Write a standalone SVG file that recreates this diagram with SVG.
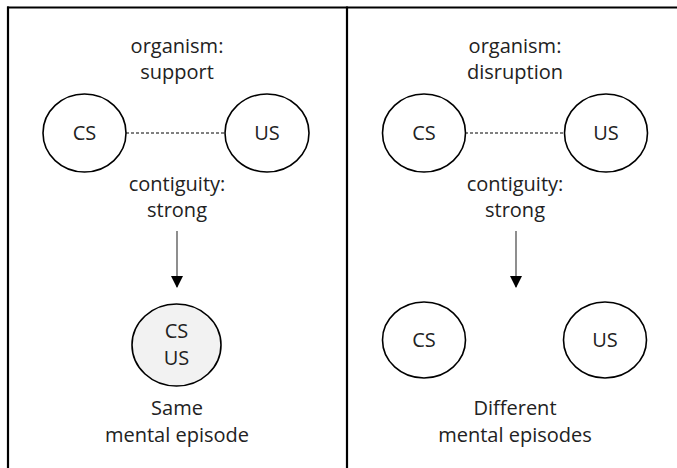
<svg xmlns="http://www.w3.org/2000/svg" width="677" height="468" viewBox="0 0 677 468">
  <defs>
    <style>
      .frame { stroke: #000; stroke-width: 2.2; fill: none; }
      .node { fill: #fff; stroke: #000; stroke-width: 1.6; }
      .merged { fill: #f2f2f2; stroke: #000; stroke-width: 1.6; }
      .lbl { font-family: "Open Sans", "Noto Sans", sans-serif; font-size: 20px; fill: #222; text-anchor: middle; }
      .dash { stroke: #000; stroke-width: 1; stroke-dasharray: 3 2; fill: none; }
      .arrow { stroke: #444; stroke-width: 1.2; fill: none; }
    </style>
    <marker id="tri" viewBox="0 0 12 12" refX="11" refY="6" markerWidth="12" markerHeight="12" markerUnits="userSpaceOnUse" orient="auto">
      <path d="M0,0 L12,6 L0,12 Z" fill="#000"/>
    </marker>
  </defs>

  <!-- panel frame -->
  <g id="frame">
    <line class="frame" x1="7" y1="7.5" x2="677" y2="7.5"/>
    <line class="frame" x1="8" y1="6.5" x2="8" y2="468"/>
    <line class="frame" x1="347" y1="6.5" x2="347" y2="468"/>
  </g>

  <!-- captions -->
  <g id="captions">
    <text class="lbl" x="177" y="53">organism:</text>
    <text class="lbl" x="177" y="79">support</text>
    <text class="lbl" x="177" y="191">contiguity:</text>
    <text class="lbl" x="177" y="217">strong</text>
    <text class="lbl" x="177" y="415">Same</text>
    <text class="lbl" x="177" y="442">mental episode</text>

    <text class="lbl" x="515" y="53">organism:</text>
    <text class="lbl" x="515" y="79">disruption</text>
    <text class="lbl" x="515" y="191">contiguity:</text>
    <text class="lbl" x="515" y="217">strong</text>
    <text class="lbl" x="515" y="415">Different</text>
    <text class="lbl" x="515" y="442">mental episodes</text>
  </g>

  <!-- connectors -->
  <g id="connectors">
    <line class="dash" x1="126" y1="133" x2="225" y2="133"/>
    <line class="dash" x1="465" y1="133" x2="565" y2="133"/>
    <line class="arrow" x1="177" y1="231" x2="177" y2="287" marker-end="url(#tri)"/>
    <line class="arrow" x1="516" y1="231" x2="516" y2="287" marker-end="url(#tri)"/>
  </g>

  <!-- left panel nodes -->
  <g id="cs-left">
    <ellipse class="node" cx="84.5" cy="133" rx="41.5" ry="39"/>
    <text class="lbl" x="84.5" y="140">CS</text>
  </g>
  <g id="us-left">
    <ellipse class="node" cx="267" cy="133" rx="42" ry="39"/>
    <text class="lbl" x="267" y="140">US</text>
  </g>
  <g id="cs-us-merged">
    <ellipse class="merged" cx="176.5" cy="345" rx="44.5" ry="41"/>
    <text class="lbl" x="176.5" y="338">CS</text>
    <text class="lbl" x="176.5" y="365">US</text>
  </g>

  <!-- right panel nodes -->
  <g id="cs-right">
    <ellipse class="node" cx="424" cy="133" rx="41.5" ry="39"/>
    <text class="lbl" x="424" y="140">CS</text>
  </g>
  <g id="us-right">
    <ellipse class="node" cx="606" cy="133" rx="41.5" ry="39"/>
    <text class="lbl" x="606" y="140">US</text>
  </g>
  <g id="cs-separate">
    <ellipse class="node" cx="424" cy="340" rx="41.5" ry="38"/>
    <text class="lbl" x="424" y="347">CS</text>
  </g>
  <g id="us-separate">
    <ellipse class="node" cx="605" cy="340" rx="41.5" ry="38"/>
    <text class="lbl" x="605" y="347">US</text>
  </g>
</svg>
